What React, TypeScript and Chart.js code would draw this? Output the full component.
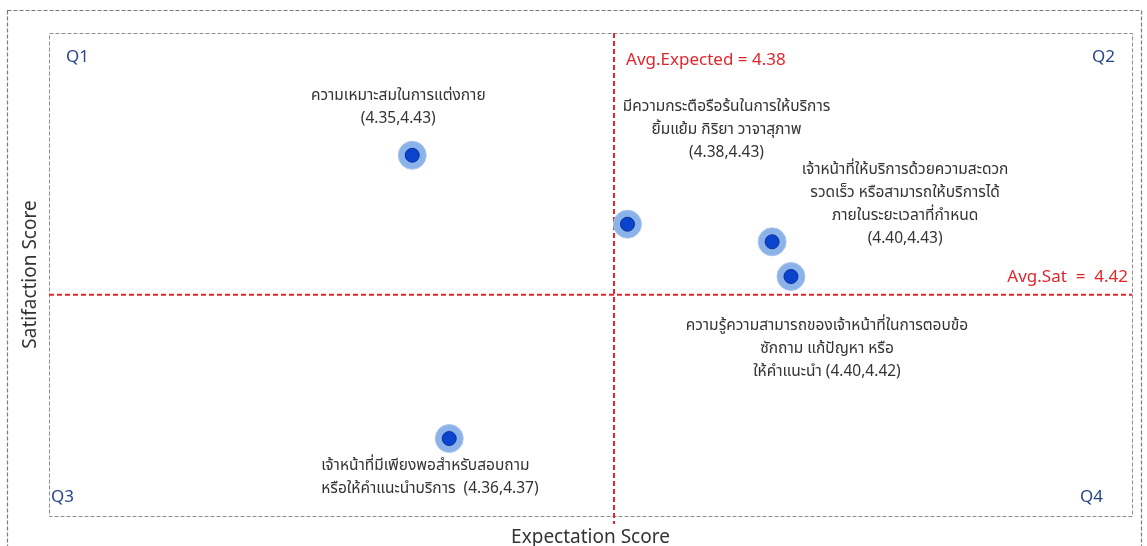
import React, { useEffect, useRef } from 'react';
import { Chart, registerables } from 'chart.js';

Chart.register(...registerables);

// ---------- data ----------
const itemLabels: string[][] = [
  ['ความเหมาะสมในการแต่งกาย', '(4.35,4.43)'],
  ['มีความกระตือรือร้นในการให้บริการ', 'ยิ้มแย้ม กิริยา วาจาสุภาพ', '(4.38,4.43)'],
  ['เจ้าหน้าที่ให้บริการด้วยความสะดวก', 'รวดเร็ว หรือสามารถให้บริการได้', 'ภายในระยะเวลาที่กำหนด', '(4.40,4.43)'],
  ['ความรู้ความสามารถของเจ้าหน้าที่ในการตอบข้อ', 'ซักถาม แก้ปัญหา หรือ', 'ให้คำแนะนำ (4.40,4.42)'],
  ['เจ้าหน้าที่มีเพียงพอสำหรับสอบถาม', 'หรือให้คำแนะนำบริการ  (4.36,4.37)'],
];
// positions as plotted in the picture (estimated)
const expectationScores = [4.35, 4.382, 4.4035, 4.4063, 4.3555];
const satisfactionScores = [4.4477, 4.434, 4.4305, 4.4236, 4.3914];
const avgExpected = 4.38;
const avgSat = 4.42;
const quadrantLabels = ['Q1', 'Q2', 'Q3', 'Q4'];
const xRange = [4.296, 4.457];
const yRange = [4.376, 4.472];
const xTitle = 'Expectation Score';
const yTitle = 'Satifaction Score';

// ---------- label placement (px offsets from each point) ----------
const labelPlacement = [
  { dx: -14, dy: -58, align: 'center' },
  { dx: 99, dy: -116, align: 'center' },
  { dx: 133, dy: -71, align: 'center' },
  { dx: 36, dy: 50, align: 'center' },
  { dx: -128, dy: 28, align: 'left' },
];

const THAI_FONT = "'Noto Sans Thai', 'Noto Sans Thai UI', Tahoma, 'Noto Sans', sans-serif";
const LATIN_FONT = "'Noto Sans', 'DejaVu Sans', sans-serif";

const decorPlugin = {
  id: 'decor',
  beforeDatasetsDraw(chart: any) {
    const { ctx, chartArea: a, scales } = chart;
    ctx.save();
    // outer dashed frame
    ctx.strokeStyle = '#7a7a7a';
    ctx.lineWidth = 1.2;
    ctx.setLineDash([4, 2]);
    ctx.strokeRect(7.5, 10.5, 1134, 560);
    // plot frame
    ctx.strokeStyle = '#8e8e8e';
    ctx.lineWidth = 1;
    ctx.setLineDash([4, 2]);
    ctx.strokeRect(a.left + 0.5, a.top + 0.5, a.right - a.left, a.bottom - a.top);
    // average lines
    const xp = scales.x.getPixelForValue(avgExpected);
    const yp = scales.y.getPixelForValue(avgSat);
    ctx.strokeStyle = '#e0262c';
    ctx.lineWidth = 2;
    ctx.setLineDash([5, 3]);
    ctx.beginPath();
    ctx.moveTo(xp, a.top);
    ctx.lineTo(xp, a.bottom + 8);
    ctx.stroke();
    ctx.beginPath();
    ctx.moveTo(a.left, yp);
    ctx.lineTo(a.right, yp);
    ctx.stroke();
    ctx.restore();
  },
  afterDatasetsDraw(chart: any) {
    const { ctx, chartArea: a, scales } = chart;
    ctx.save();
    ctx.setLineDash([]);
    ctx.textBaseline = 'middle';
    // quadrant labels
    ctx.fillStyle = '#27468a';
    ctx.font = `17px ${LATIN_FONT}`;
    ctx.textAlign = 'left';
    ctx.fillText(quadrantLabels[0], a.left + 17, a.top + 24);
    ctx.fillText(quadrantLabels[2], a.left + 2, a.bottom - 19);
    ctx.textAlign = 'right';
    ctx.fillText(quadrantLabels[1], a.right - 17, a.top + 24);
    ctx.fillText(quadrantLabels[3], a.right - 29, a.bottom - 19);
    // average labels
    const xp = scales.x.getPixelForValue(avgExpected);
    const yp = scales.y.getPixelForValue(avgSat);
    ctx.fillStyle = '#e0262c';
    ctx.font = `17px ${LATIN_FONT}`;
    ctx.textAlign = 'left';
    ctx.fillText(`Avg.Expected = ${avgExpected.toFixed(2)}`, xp + 12, a.top + 27);
    ctx.textAlign = 'right';
    ctx.fillText(`Avg.Sat  =  ${avgSat.toFixed(2)}`, a.right - 4, yp - 17);
    // item labels
    ctx.fillStyle = '#333333';
    ctx.font = `15.5px ${THAI_FONT}`;
    itemLabels.forEach((lines, i) => {
      const px = scales.x.getPixelForValue(expectationScores[i]);
      const py = scales.y.getPixelForValue(satisfactionScores[i]);
      const p = labelPlacement[i];
      ctx.textAlign = p.align;
      lines.forEach((ln, j) => {
        ctx.fillText(ln, px + p.dx, py + p.dy + j * 23);
      });
    });
    ctx.restore();
  },
};

export default function App() {
  const ref = useRef<HTMLCanvasElement | null>(null);
  useEffect(() => {
    document.body.style.margin = '0';
    if (!ref.current) return;
    const points = expectationScores.map((x, i) => ({ x, y: satisfactionScores[i] }));
    const chart = new Chart(ref.current, {
      type: 'scatter',
      data: {
        datasets: [
          {
            data: points,
            pointRadius: 7,
            pointBackgroundColor: '#0a44cc',
            pointBorderColor: '#0a2f9c',
            pointBorderWidth: 1,
            pointHoverRadius: 7,
          },
          {
            data: points,
            pointRadius: 14,
            pointBackgroundColor: '#8cb2ea',
            pointBorderColor: '#a9c5ef',
            pointBorderWidth: 1,
            pointHoverRadius: 14,
          },
        ],
      },
      options: {
        responsive: false,
        animation: false,
        devicePixelRatio: 1,
        layout: { padding: { left: 15, top: 33, right: 14, bottom: 0 } },
        plugins: { legend: { display: false }, tooltip: { enabled: false } },
        events: [],
        scales: {
          x: {
            type: 'linear',
            min: xRange[0],
            max: xRange[1],
            grid: { display: false },
            border: { display: false },
            ticks: { display: false },
            title: {
              display: true,
              text: xTitle,
              color: '#333',
              font: { family: LATIN_FONT, size: 19 },
              padding: { top: 0, bottom: -3 },
            },
            afterFit: (s: any) => { s.height = 30; },
          },
          y: {
            type: 'linear',
            min: yRange[0],
            max: yRange[1],
            grid: { display: false },
            border: { display: false },
            ticks: { display: false },
            title: {
              display: true,
              text: yTitle,
              color: '#333',
              font: { family: LATIN_FONT, size: 19 },
              padding: { top: 4, bottom: 0 },
            },
            afterFit: (s: any) => { s.width = 34; },
          },
        },
      },
      plugins: [decorPlugin],
    });
    return () => chart.destroy();
  }, []);
  return (
    <div style={{ width: 1147, height: 546, position: 'relative', background: '#fff' }}>
      <canvas ref={ref} width={1147} height={546} style={{ display: 'block' }} />
    </div>
  );
}
